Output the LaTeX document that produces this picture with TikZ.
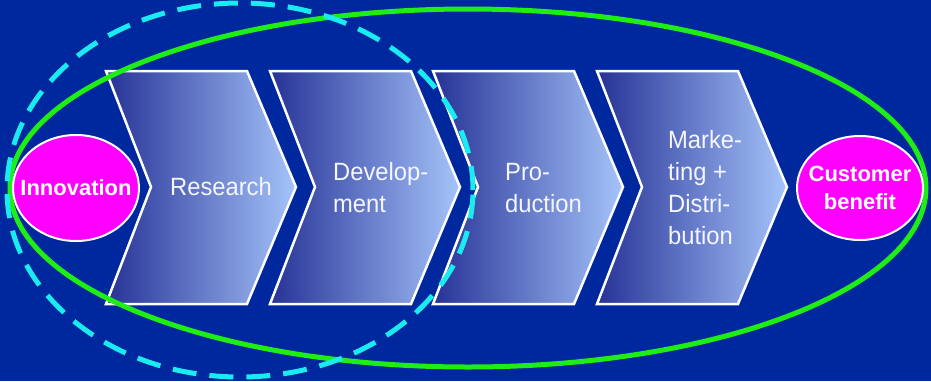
\documentclass[tikz,border=0pt]{standalone}
\usepackage{fontspec}
\setmainfont{Liberation Sans}
\definecolor{bgblue}{RGB}{0,40,158}
\definecolor{chevdark}{RGB}{38,50,150}
\definecolor{chevmid}{RGB}{122,152,224}
\definecolor{chevlight}{RGB}{165,196,250}
\definecolor{pink}{RGB}{255,0,255}
\definecolor{lime}{RGB}{30,238,20}
\definecolor{aqua}{RGB}{25,235,240}
\definecolor{txt}{RGB}{245,246,255}
\tikzset{
  chev/.style={draw=white, line width=2.5pt, line join=miter, left color=chevdark, middle color=chevmid, right color=chevlight},
  steplabel/.style={text=txt, align=left, anchor=west, inner sep=0pt, font=\fontsize{25}{32}\selectfont\addfontfeature{FakeStretch=0.95}},
  endfill/.style={draw=white, line width=2pt, fill=pink},
  endlabel/.style={inner sep=0pt, text=white, align=center, font=\bfseries\fontsize{22}{28}\selectfont},
  bigring/.style={draw=lime, line width=5pt},
  dashring/.style={draw=aqua, line width=5pt, dash pattern=on 24pt off 13pt}
}
\begin{document}
\begin{tikzpicture}[x=1pt,y=-1pt]
\fill[bgblue] (0,0) rectangle (931,381);
\useasboundingbox (0,0) rectangle (931,381);
\clip (0,0) rectangle (931,381);
% chevrons
\foreach \x/\n in {106/c1,270/c2,433/c3,597/c4}{
  \path[chev] (\x,71) -- (\x+141,71) -- (\x+190,187) -- (\x+141,304) -- (\x,304) -- (\x+45,187) -- cycle;
}
\node[steplabel] (research) at (170,187) {Research};
\node[steplabel] (devel) at (333,188) {Develop-\\ment};
\node[steplabel] (prod) at (505,188) {Pro-\\duction};
\node[steplabel] (market) at (668,188) {Marke-\\ting +\\Distri-\\bution};
% rings
\draw[bigring] (468,188) ellipse [x radius=458pt, y radius=179pt];
\draw[dashring] (240,190) ellipse [x radius=233pt, y radius=187pt];
% end points
\coordinate (innovc) at (76,188);
\coordinate (custc) at (860,188);
\draw[endfill] (innovc) ellipse [x radius=63pt, y radius=53pt];
\draw[endfill] (custc) ellipse [x radius=63pt, y radius=52pt];
\node[endlabel] (innov) at (innovc) {Innovation};
\node[endlabel] (cust) at (custc) {Customer\\benefit};
\end{tikzpicture}
\end{document}
